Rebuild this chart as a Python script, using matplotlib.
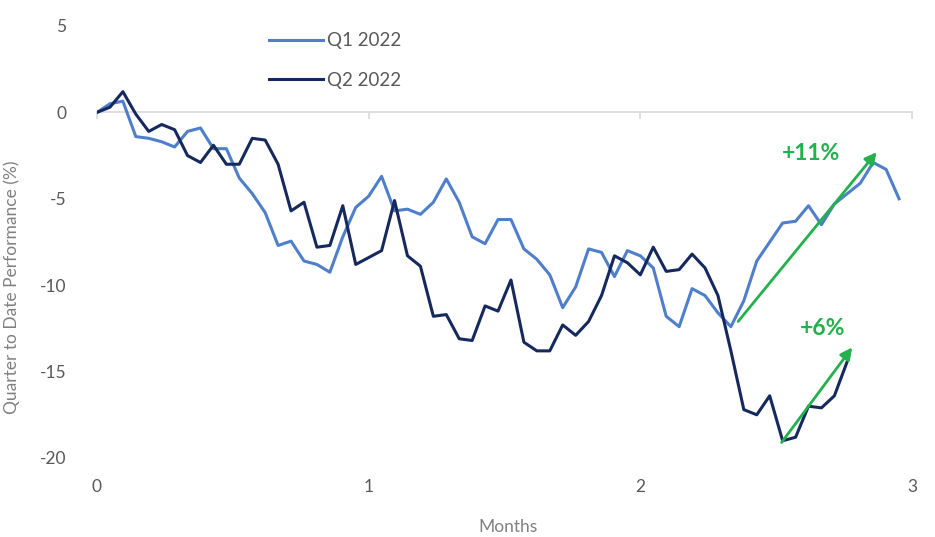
import matplotlib
matplotlib.use("Agg")
import matplotlib.pyplot as plt
import numpy as np

# ---- data ----
days_per_month = 21
q1_2022 = [0.0, 0.5, 0.65, -1.4, -1.5, -1.7, -2.0, -1.1, -0.9, -2.1,
           -2.1, -3.8, -4.7, -5.8, -7.7, -7.45, -8.6, -8.8, -9.25, -7.2,
           -5.5, -4.85, -3.7, -5.7, -5.6, -5.9, -5.2, -3.85, -5.2, -7.2,
           -7.6, -6.2, -6.2, -7.9, -8.5, -9.4, -11.3, -10.1, -7.9, -8.1,
           -9.5, -8.0, -8.3, -9.0, -11.8, -12.4, -10.2, -10.6, -11.6, -12.4,
           -10.9, -8.6, -7.5, -6.4, -6.3, -5.4, -6.5, -5.3, -4.7, -4.1,
           -2.9, -3.3, -5.0]
q2_2022 = [0.0, 0.3, 1.2, -0.1, -1.1, -0.7, -1.0, -2.5, -2.9, -1.9,
           -3.0, -3.0, -1.5, -1.6, -3.0, -5.7, -5.2, -7.8, -7.7, -5.4,
           -8.8, -8.4, -8.0, -5.1, -8.3, -8.9, -11.8, -11.7, -13.1, -13.2,
           -11.2, -11.5, -9.7, -13.3, -13.8, -13.8, -12.3, -12.9, -12.1, -10.6,
           -8.3, -8.7, -9.4, -7.8, -9.2, -9.1, -8.2, -9.0, -10.6, -13.8,
           -17.2, -17.5, -16.4, -19.0, -18.8, -17.0, -17.1, -16.4, -14.4]
series_labels = ["Q1 2022", "Q2 2022"]
x_ticks = [0, 1, 2, 3]
y_ticks = [5, 0, -5, -10, -15, -20]
# annotations: (start month, start %, end month, end %)
arrow_q1 = (2.36, -12.1, 2.87, -2.3)
arrow_q2 = (2.52, -19.1, 2.78, -13.6)
label_q1 = ("+11%", 2.63, -2.4)
label_q2 = ("+6%", 2.67, -12.5)

light = "#4f7fcb"
dark = "#15295e"
green = "#22b14c"
tick_grey = "#595959"
label_grey = "#808080"

plt.rcParams['font.family'] = ['Lato', 'DejaVu Sans']
plt.rcParams['axes.unicode_minus'] = False

fig = plt.figure(figsize=(9.35, 5.37), dpi=100)
ax = fig.add_axes([97/935, 1-458/537, (912-97)/935, (458-26)/537])

x1 = np.arange(len(q1_2022)) / days_per_month
x2 = np.arange(len(q2_2022)) / days_per_month
l1, = ax.plot(x1, q1_2022, color=light, lw=2.2, solid_joinstyle='round')
l2, = ax.plot(x2, q2_2022, color=dark, lw=2.2, solid_joinstyle='round')

ax.set_xlim(0, 3)
ax.set_ylim(-20, 5)
ax.set_xticks(x_ticks)
ax.set_yticks(y_ticks)
ax.tick_params(axis='both', length=0, labelsize=12.5, labelcolor=tick_grey)
ax.tick_params(axis='x', pad=15)
ax.tick_params(axis='y', pad=22)
for s in ax.spines.values():
    s.set_visible(False)

# zero axis line with small tick marks
sec = ax.secondary_xaxis(0, transform=ax.transData)
sec.set_xticks(x_ticks)
sec.set_xticklabels([])
sec.spines['bottom'].set_color('#d9d9d9')
sec.spines['bottom'].set_linewidth(1.2)
sec.tick_params(axis='x', direction='out', length=5, color='#d9d9d9', width=1.2)

ax.set_ylabel("Quarter to Date Performance (%)", fontsize=12.5, color=label_grey)
ax.yaxis.set_label_coords(-0.094, 0.395)
ax.set_xlabel("Months", fontsize=12.5, color=label_grey)
ax.xaxis.set_label_coords(0.504, -0.141)

for (xs, ys, xe, ye) in (arrow_q1, arrow_q2):
    ax.annotate("", xy=(xe, ye), xytext=(xs, ys),
                arrowprops=dict(arrowstyle="-|>,head_length=0.7,head_width=0.35",
                                color=green, lw=2.0, shrinkA=0, shrinkB=0))
for (txt, tx, ty) in (label_q1, label_q2):
    ax.text(tx, ty, txt, color=green, fontsize=16.5, fontweight='bold',
            ha='center', va='center')

leg = ax.legend([l1, l2], series_labels, loc='upper left',
                bbox_to_anchor=(0.19, 1.025), frameon=False, fontsize=13.5,
                handlelength=2.9, handletextpad=0.2, labelspacing=1.2,
                labelcolor=tick_grey)

fig.savefig("out.png", dpi=100, facecolor='white')
